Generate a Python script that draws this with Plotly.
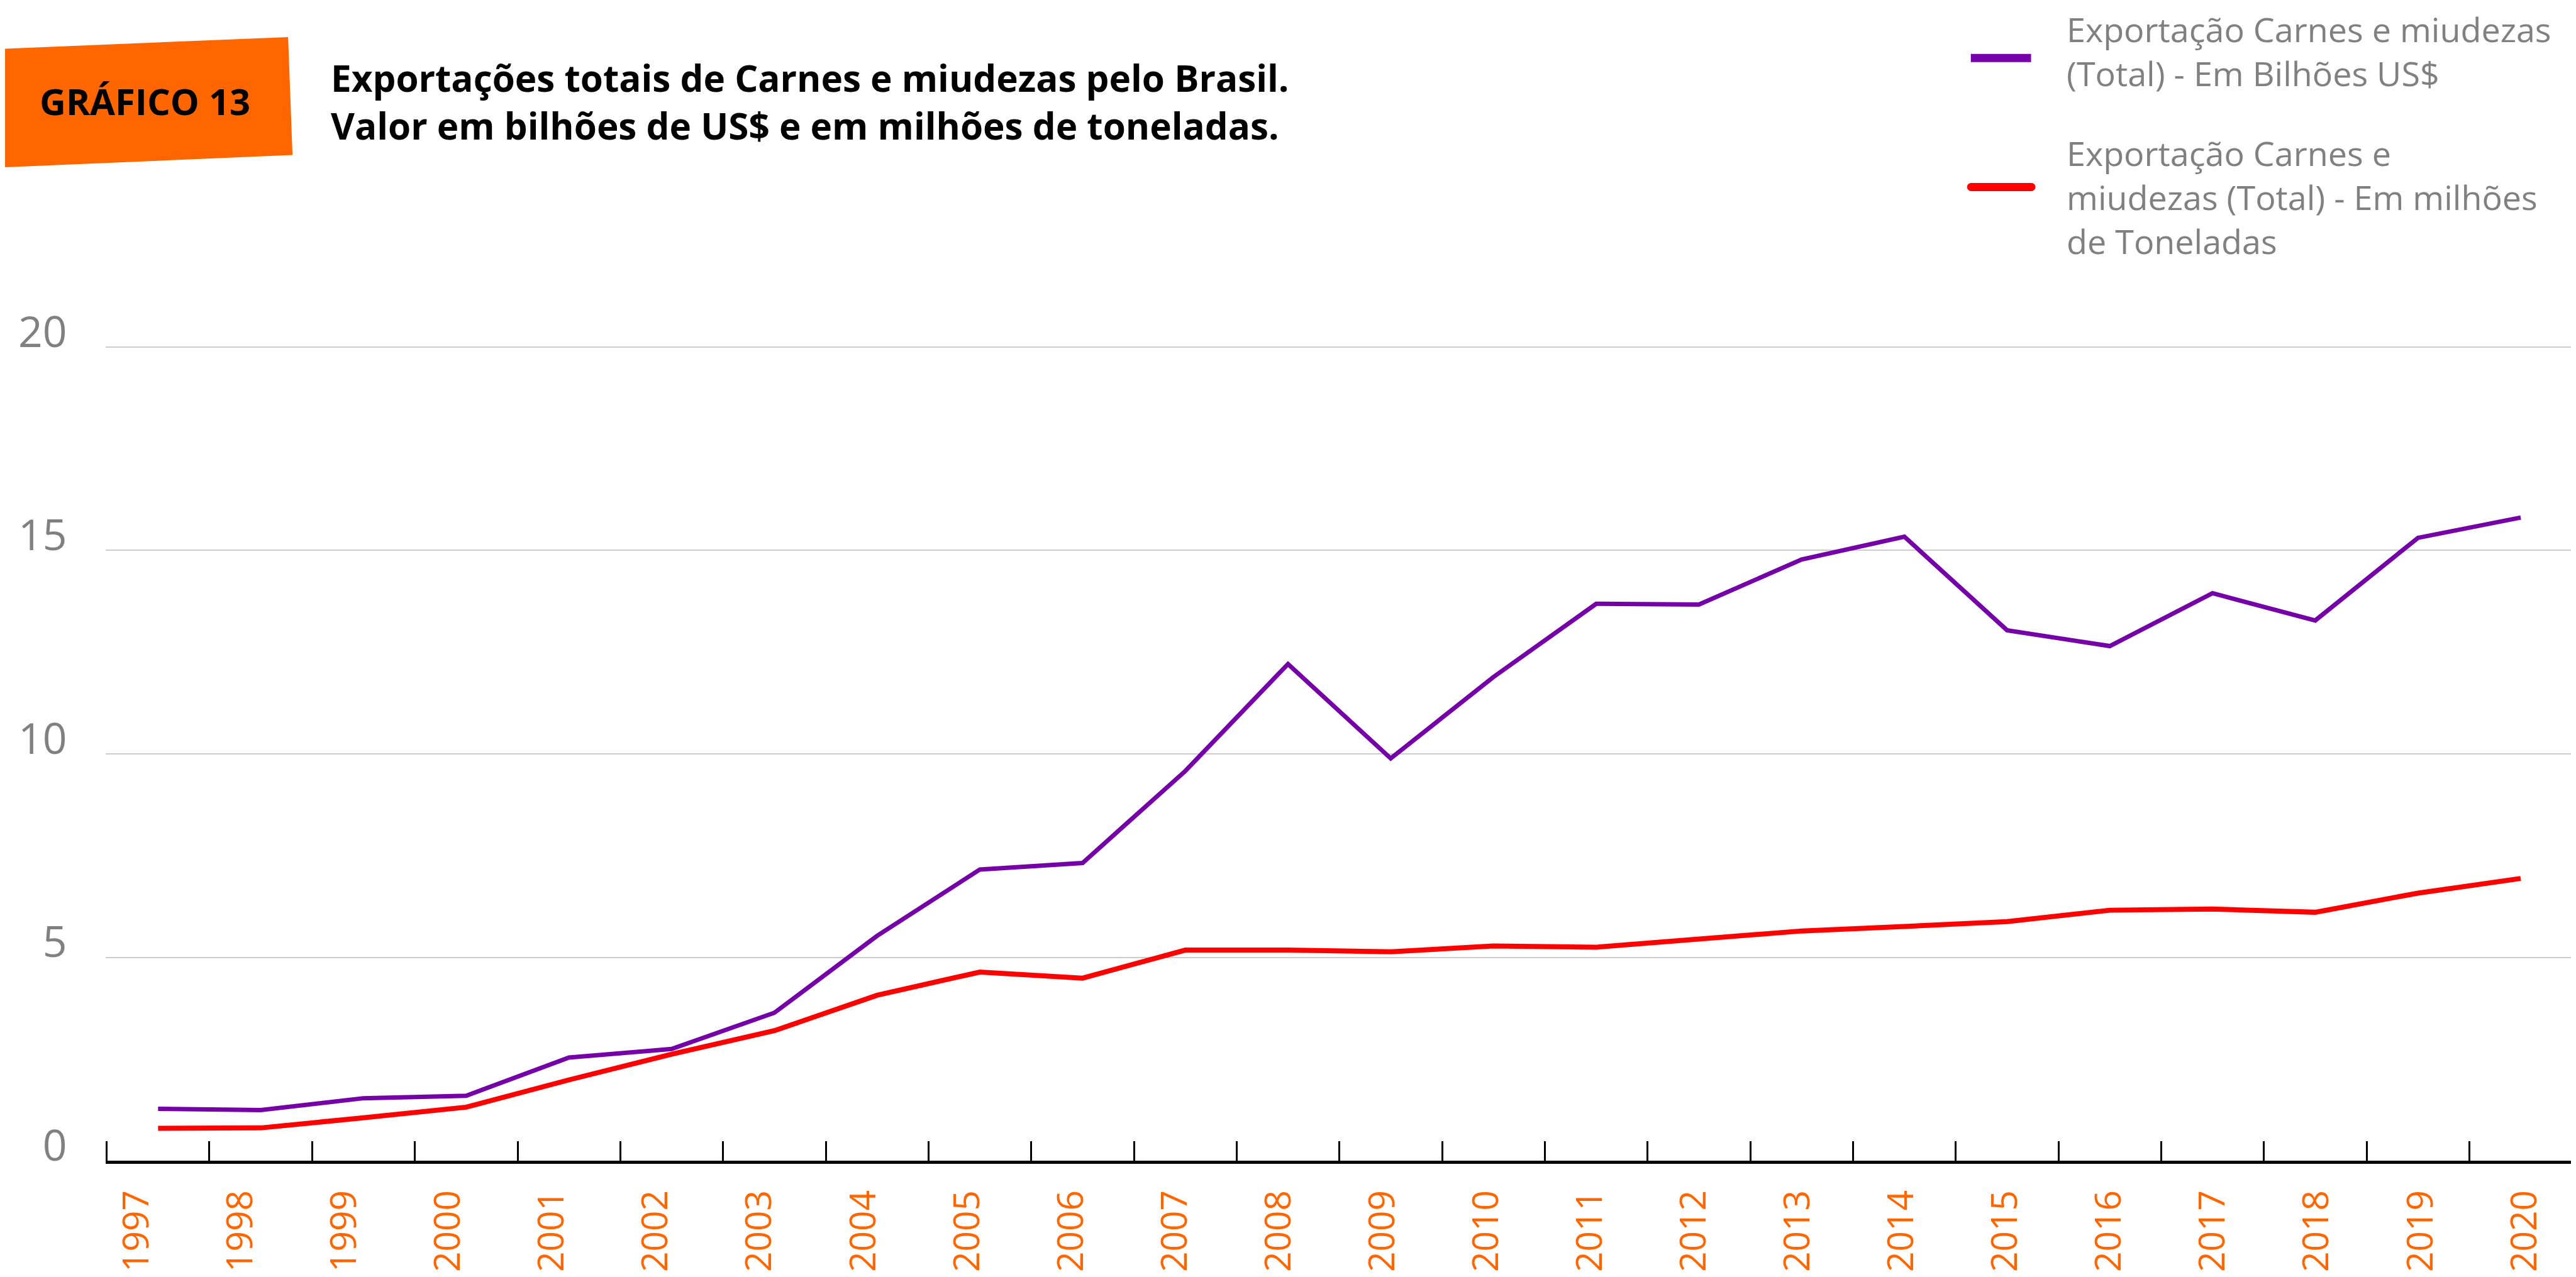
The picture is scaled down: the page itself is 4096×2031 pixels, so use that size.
import plotly.graph_objects as go

# ---------------- data ----------------
years = list(range(1997, 2021))
year_labels = [str(y) for y in years]
valor_bilhoes_usd = [1.28, 1.25, 1.54, 1.60, 2.54, 2.75, 3.64, 5.53, 7.16, 7.32,
                     9.58, 12.21, 9.89, 11.89, 13.69, 13.67, 14.78, 15.34, 13.04,
                     12.65, 13.95, 13.28, 15.31, 15.81]
volume_milhoes_t = [0.80, 0.81, 1.06, 1.32, 1.99, 2.62, 3.20, 4.07, 4.64, 4.49,
                    5.18, 5.18, 5.14, 5.28, 5.25, 5.44, 5.65, 5.76, 5.88, 6.16,
                    6.19, 6.11, 6.58, 6.94]
y_ticks = [0, 5, 10, 15, 20]
y_tick_text = ["0", "5", "10", "15", "20"]
legend_valor = ["Exportação Carnes e miudezas", "(Total) - Em Bilhões US$"]
legend_volume = ["Exportação Carnes e", "miudezas (Total) - Em milhões", "de Toneladas"]
badge = "GRÁFICO 13"
title_lines = ["Exportações totais de Carnes e miudezas pelo Brasil.",
               "Valor em bilhões de US$ e em milhões de toneladas."]

# ---------------- geometry helpers (reference px -> paper) ----------------
S = 0.998          # reference -> window scale
OFF = 8            # page body margin
FW, FH = 4096 - OFF, 2031 - 2 * OFF


def fx(x):
    return (x * S - OFF) / FW


def fy(y):
    return 1 - (y * S - OFF) / FH


PURPLE = "#7500A8"
RED = "#FF0000"
ORANGE = "#FF6600"
GREY = "#808080"
FONT = "Open Sans"

x_dom = [fx(168), fx(4098)]
unit = 163.75  # ref px per year on plot axis

fig = go.Figure()
fig.add_trace(go.Scatter(x=years, y=valor_bilhoes_usd, mode="lines",
                         name=" ".join(legend_valor),
                         line=dict(color=PURPLE, width=7), showlegend=False))
fig.add_trace(go.Scatter(x=years, y=volume_milhoes_t, mode="lines",
                         name=" ".join(legend_volume),
                         line=dict(color=RED, width=8), showlegend=False))
# invisible trace carrying the year-label axis
fig.add_trace(go.Scatter(x=years, y=volume_milhoes_t, mode="lines", xaxis="x2",
                         line=dict(color="rgba(0,0,0,0)", width=0),
                         showlegend=False, hoverinfo="skip"))

lab_unit = 165.4
lab_r0 = 1997 - (218 - 168) / lab_unit
lab_r1 = lab_r0 + (4098 - 168) / lab_unit

fig.update_layout(
    template="none",
    width=FW, height=FH, autosize=False,
    margin=dict(l=0, r=0, t=0, b=0, pad=0, autoexpand=False),
    paper_bgcolor="white", plot_bgcolor="white",
    font=dict(family=FONT),
    showlegend=False,
    xaxis=dict(
        domain=x_dom, automargin=False,
        range=[1996.5 - 2 / unit, 2020.5005],
        tickmode="array",
        tickvals=[y - 0.5 for y in years] + [years[-1] + 0.5],
        ticks="inside", ticklen=int(round(31 * S)), tickwidth=3, tickcolor="black",
        showticklabels=False,
        showline=True, linecolor="black", linewidth=5,
        showgrid=False, zeroline=False,
    ),
    xaxis2=dict(
        overlaying="x", anchor="free", position=0, side="top", automargin=False,
        domain=x_dom,
        range=[lab_r0, lab_r1],
        tickmode="array", tickvals=years, ticktext=year_labels,
        tickangle=-90,
        tickfont=dict(family=FONT, size=57 * S, color=ORANGE),
        ticks="", showline=False, showgrid=False, zeroline=False,
    ),
    yaxis=dict(
        domain=[fy(1850), fy(553 - 0.5 * 64.85)], automargin=False,
        range=[0, 20.5],
        tickmode="array", tickvals=y_ticks, ticktext=y_tick_text,
        ticks="", showline=False, zeroline=False,
        showgrid=True, gridcolor="#CCCCCC", gridwidth=2,
        tickfont=dict(family=FONT, size=68 * S, color=GREY),
        ticklabelshift=-int(round(24 * S)),
        ticklabelstandoff=60,
    ),
)

# orange badge
pts = [(0, 78), (459, 59), (466, 247), (0, 267)]
path = "M " + " L ".join(f"{fx(x):.5f},{fy(y):.5f}" for x, y in pts) + " Z"
shapes = [dict(type="path", xref="paper", yref="paper", path=path,
               fillcolor=ORANGE, line=dict(width=0), layer="below")]

# legend keys
shapes.append(dict(type="line", xref="paper", yref="paper",
                   x0=fx(3140), x1=fx(3236), y0=fy(92.5), y1=fy(92.5),
                   line=dict(color=PURPLE, width=13 * S)))
shapes.append(dict(type="line", xref="paper", yref="paper",
                   x0=fx(3140.5), x1=fx(3236.5), y0=fy(298), y1=fy(298),
                   line=dict(color=RED, width=13 * S)))
for cx in (3140.5, 3236.5):
    shapes.append(dict(type="circle", xref="paper", yref="paper",
                       x0=fx(cx - 6.5), x1=fx(cx + 6.5),
                       y0=fy(298 + 6.5), y1=fy(298 - 6.5),
                       fillcolor=RED, line=dict(width=0)))


def text_block(lines, x, baselines, size, color, bold=False, anchor="left"):
    """One annotation per text block; centred on the mean reference baseline."""
    body = "<br>".join(lines)
    if bold:
        body = f"<b>{body}</b>"
    mean_base = sum(baselines) / len(baselines)
    return dict(text=body, xref="paper", yref="paper", align="left",
                x=fx(x), y=fy(mean_base - 0.388 * size),
                xanchor=anchor, yanchor="middle", showarrow=False,
                borderpad=0,
                font=dict(family=FONT, size=size * S, color=color))


annotations = [
    text_block([badge], 231, [183], 58, "black", bold=True, anchor="center"),
    text_block(title_lines, 526, [150, 220], 58.5, "black", bold=True),
    text_block(legend_valor, 3292, [69, 136], 54, GREY),
    text_block(legend_volume, 3292, [268, 335, 402], 54, GREY),
]

fig.update_layout(shapes=shapes, annotations=annotations)
fig.write_html("out.html")
